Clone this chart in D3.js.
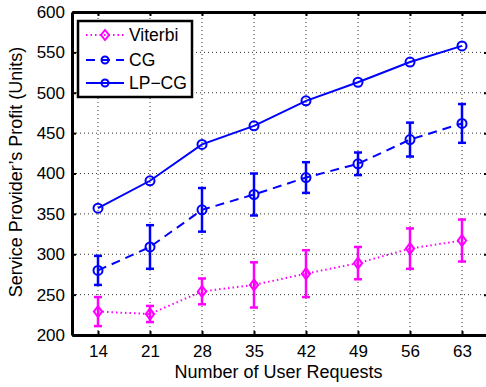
<!DOCTYPE html>
<html>
<head>
<meta charset="utf-8">
<script src="https://cdn.jsdelivr.net/npm/d3@7"></script>
<style>
  html, body { margin: 0; padding: 0; background: #fff; }
  svg { display: block; font-family: "Liberation Sans", Arial, sans-serif; }
</style>
</head>
<body>
<div id="chart"></div>
<script>
const width = 486;
const height = 387;
const margin = { top: 12, right: -2, bottom: 52, left: 72 };

// data
const requests = [14, 21, 28, 35, 42, 49, 56, 63];
const yTicks = [200, 250, 300, 350, 400, 450, 500, 550, 600];

const viterbiMean = [229, 226, 254, 262, 276, 289, 307, 317];
const viterbiErr = [18, 10, 16, 28, 29, 20, 25, 26];
const cgMean = [280, 309, 355, 374, 395, 412, 442, 462];
const cgErr = [18, 27, 27, 26, 19, 14, 21, 24];
const lpcgMean = [357, 391, 436, 459, 490, 513, 538, 558];

const series = [
  { name: "Viterbi", color: "#ff00ff", values: viterbiMean, err: viterbiErr, dash: "1.5,3", marker: "diamond" },
  { name: "CG", color: "#0000ff", values: cgMean, err: cgErr, dash: "9,6", marker: "circle" },
  { name: "LP\u2212CG", color: "#0000ff", values: lpcgMean, err: null, dash: null, marker: "circle" }
];

const svg = d3.select("#chart").append("svg")
  .attr("width", width).attr("height", height);

const x = d3.scaleLinear().domain([10.5, 66.5]).range([margin.left, width - margin.right]);
const y = d3.scaleLinear().domain([200, 600]).range([height - margin.bottom, margin.top]);

// grid
const grid = svg.append("g");
grid.selectAll(".vg").data(requests).join("line")
  .attr("x1", d => x(d)).attr("x2", d => x(d))
  .attr("y1", y(200)).attr("y2", y(600))
  .attr("stroke", "#333").attr("stroke-width", 1).attr("stroke-dasharray", "1,3");
grid.selectAll(".hg").data(yTicks.slice(1, -1)).join("line")
  .attr("x1", x(10.5)).attr("x2", x(66.5))
  .attr("y1", d => y(d)).attr("y2", d => y(d))
  .attr("stroke", "#333").attr("stroke-width", 1).attr("stroke-dasharray", "1,3");

// axes
const xAxis = svg.append("g")
  .attr("transform", `translate(0,${y(200)})`)
  .call(d3.axisBottom(x).tickValues(requests).tickSizeInner(-4).tickSizeOuter(0).tickPadding(10));
const xTop = svg.append("g")
  .attr("transform", `translate(0,${y(600)})`)
  .call(d3.axisTop(x).tickValues(requests).tickSizeInner(-4).tickSizeOuter(0).tickFormat(""));
const yAxis = svg.append("g")
  .attr("transform", `translate(${x(10.5)},0)`)
  .call(d3.axisLeft(y).tickValues(yTicks).tickSizeInner(-4).tickSizeOuter(0).tickPadding(7));
const yRight = svg.append("g")
  .attr("transform", `translate(${x(66.5)},0)`)
  .call(d3.axisRight(y).tickValues(yTicks).tickSizeInner(-4).tickSizeOuter(0).tickFormat(""));

[xAxis, xTop, yAxis, yRight].forEach(a => {
  a.select(".domain").attr("stroke", "#000").attr("stroke-width", 3);
  a.selectAll(".tick line").attr("stroke", "#000").attr("stroke-width", 2);
  a.selectAll("text").attr("fill", "#000").style("font-size", "17px")
    .style("font-family", "'Liberation Sans', Arial, sans-serif");
});

// series
series.forEach(s => {
  const g = svg.append("g");
  const line = d3.line().x((d, i) => x(requests[i])).y(d => y(d));
  g.append("path").datum(s.values)
    .attr("d", line)
    .attr("fill", "none")
    .attr("stroke", s.color)
    .attr("stroke-width", 2)
    .attr("stroke-dasharray", s.dash);

  if (s.err) {
    const eb = g.selectAll(".eb").data(s.values).join("g");
    eb.append("line")
      .attr("x1", (d, i) => x(requests[i])).attr("x2", (d, i) => x(requests[i]))
      .attr("y1", (d, i) => y(d - s.err[i])).attr("y2", (d, i) => y(d + s.err[i]))
      .attr("stroke", s.color).attr("stroke-width", 2.5);
    [-1, 1].forEach(sign => {
      eb.append("line")
        .attr("x1", (d, i) => x(requests[i]) - 4).attr("x2", (d, i) => x(requests[i]) + 4)
        .attr("y1", (d, i) => y(d + sign * s.err[i])).attr("y2", (d, i) => y(d + sign * s.err[i]))
        .attr("stroke", s.color).attr("stroke-width", 2.5);
    });
  }

  if (s.marker === "circle") {
    g.selectAll(".m").data(s.values).join("circle")
      .attr("cx", (d, i) => x(requests[i])).attr("cy", d => y(d))
      .attr("r", 4.5).attr("fill", "none").attr("stroke", s.color).attr("stroke-width", 2);
  } else {
    g.selectAll(".m").data(s.values).join("path")
      .attr("d", (d, i) => {
        const cx = x(requests[i]), cy = y(d), r = 5.5;
        return `M${cx},${cy - r}L${cx + r * 0.75},${cy}L${cx},${cy + r}L${cx - r * 0.75},${cy}Z`;
      })
      .attr("fill", "none").attr("stroke", s.color).attr("stroke-width", 2);
  }
});

// axis labels
svg.append("text")
  .attr("x", 278.5).attr("y", 378)
  .attr("text-anchor", "middle")
  .style("font-size", "18px")
  .text("Number of User Requests");

svg.append("text")
  .attr("transform", `translate(22,172) rotate(-90)`)
  .attr("text-anchor", "middle")
  .style("font-size", "18px")
  .text("Service Provider\u2019s Profit (Units)");

// legend
const legend = svg.append("g");
legend.append("rect")
  .attr("x", 78).attr("y", 21).attr("width", 114).attr("height", 76)
  .attr("fill", "#fff").attr("stroke", "#000").attr("stroke-width", 2.5);

const rowY = [35, 60, 83];
series.forEach((s, i) => {
  const ly = rowY[i];
  legend.append("line")
    .attr("x1", 86).attr("x2", 124).attr("y1", ly).attr("y2", ly)
    .attr("stroke", s.color).attr("stroke-width", 2)
    .attr("stroke-dasharray", s.dash);
  if (s.marker === "circle") {
    legend.append("circle").attr("cx", 105).attr("cy", ly).attr("r", 3.5)
      .attr("fill", "none").attr("stroke", s.color).attr("stroke-width", 2);
  } else {
    legend.append("path")
      .attr("d", `M105,${ly - 5}L109,${ly}L105,${ly + 5}L101,${ly}Z`)
      .attr("fill", "none").attr("stroke", s.color).attr("stroke-width", 2);
  }
  legend.append("text")
    .attr("x", 129).attr("y", ly + 6)
    .style("font-size", "17.5px")
    .text(s.name);
});
</script>
</body>
</html>
